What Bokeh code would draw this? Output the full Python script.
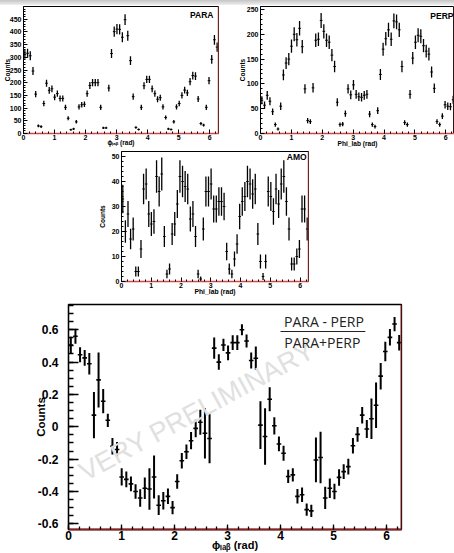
import numpy as np
from bokeh.plotting import figure
from bokeh.layouts import column, row
from bokeh.models import Range1d, FixedTicker, Label, Span, BoxAnnotation, Spacer, ColumnDataSource
from bokeh.embed import file_html
from bokeh.resources import INLINE

# ---------------- data (72 bins of 5 degrees over 0..2pi) ----------------
N_BINS = 72
PHI_MAX = 2 * np.pi

para_counts = [312, 316, 306, 246, 155, 30, 27, 118, 198, 170,
               176, 143, 157, 138, 138, 103, 60, 15, 18, 46,
               105, 113, 115, 157, 189, 200, 200, 200, 103, 22,
               22, 179, 315, 401, 411, 410, 379, 448, 385, 287,
               145, 24, 16, 103, 188, 213, 213, 176, 157, 135,
               141, 105, 63, 18, 16, 46, 105, 118, 150, 171,
               160, 204, 228, 226, 136, 39, 33, 103, 208, 292,
               369, 340]

perp_counts = [67, 57, 77, 65, 44, 18, 9, 55, 118, 142,
               150, 176, 200, 189, 212, 175, 90, 26, 24, 92,
               188, 190, 228, 206, 188, 184, 158, 135, 63, 18,
               19, 40, 90, 78, 98, 79, 74, 73, 77, 79,
               39, 18, 14, 46, 119, 170, 191, 209, 190, 227,
               225, 209, 135, 22, 18, 79, 152, 184, 198, 196,
               177, 166, 160, 124, 91, 24, 18, 35, 58, 55,
               54, 68]

amo_counts = [33, 20, 27, 17, 21, 4, 4, 13, 37, 39,
              27, 23, 24, 42, 36, 43, 18, 3, 5, 19,
              23, 31, 42, 40, 38, 37, 25, 27, 18, 3,
              1, 21, 36, 36, 39, 29, 29, 32, 32, 30,
              12, 5, 3, 9, 15, 26, 32, 34, 40, 39,
              35, 37, 19, 8, 2, 8, 36, 34, 28, 37,
              31, 39, 42, 32, 21, 7, 7, 10, 13, 29,
              29, 21]

asym_values = [0.506, 0.56, 0.445, 0.426, 0.39, 0.072, 0.29, 0.158, 0.04, -0.12,
               -0.14, -0.31, -0.325, -0.353, -0.40, -0.44, -0.38, -0.385, -0.31, -0.485,
               -0.457, -0.43, -0.50, -0.338, -0.21, -0.154, -0.086, -0.01, 0.028, -0.04,
               -0.072, 0.486, 0.40, 0.506, 0.457, 0.52, 0.52, 0.60, 0.53, 0.41,
               0.424, 0.01, -0.06, 0.17, 0.006, -0.106, -0.164, -0.307, -0.297, -0.43,
               -0.42, -0.512, -0.52, -0.205, -0.19, -0.44, -0.38, -0.40, -0.313, -0.277,
               -0.246, -0.117, -0.047, 0.072, -0.014, 0.05, 0.133, 0.313, 0.465, 0.553,
               0.635, 0.52]

asym_errors = [0.051, 0.046, 0.046, 0.049, 0.066, 0.143, 0.17, 0.075, 0.041, 0.051,
               0.046, 0.053, 0.049, 0.046, 0.045, 0.054, 0.066, 0.128, 0.133, 0.061,
               0.054, 0.048, 0.041, 0.045, 0.048, 0.045, 0.053, 0.054, 0.078, 0.156,
               0.154, 0.066, 0.048, 0.038, 0.045, 0.046, 0.046, 0.034, 0.04, 0.049,
               0.072, 0.148, 0.174, 0.074, 0.053, 0.046, 0.046, 0.041, 0.041, 0.045,
               0.045, 0.038, 0.038, 0.138, 0.159, 0.069, 0.06, 0.048, 0.051, 0.046,
               0.049, 0.048, 0.046, 0.051, 0.056, 0.125, 0.141, 0.082, 0.06, 0.051,
               0.044, 0.048]

x_ticks = [0, 1, 2, 3, 4, 5, 6]
para_yticks = [0, 50, 100, 150, 200, 250, 300, 350, 400, 450]
perp_yticks = [0, 50, 100, 150, 200, 250]
amo_yticks = [0, 10, 20, 30, 40, 50]
asym_yticks = [-0.6, -0.4, -0.2, 0, 0.2, 0.4, 0.6]
asym_ytick_labels = ["-0.6", "-0.4", "-0.2", "0", "0.2", "0.4", "0.6"]

FONT = "Liberation Sans"
bin_w = PHI_MAX / N_BINS
centers = (np.arange(N_BINS) + 0.5) * bin_w
x_minor = list(np.round(np.arange(0, 6.3, 0.2), 3))


def add_errorbars(p, vals, errs, lw_v, lw_h, color="black"):
    vals = np.asarray(vals, dtype=float)
    errs = np.asarray(errs, dtype=float)
    src = ColumnDataSource(dict(x=centers, lo=vals - errs, hi=vals + errs,
                                xl=centers - bin_w / 2, xr=centers + bin_w / 2, y=vals))
    p.segment(x0="x", y0="lo", x1="x", y1="hi", source=src, line_color=color, line_width=lw_v)
    p.segment(x0="xl", y0="y", x1="xr", y1="y", source=src, line_color=color, line_width=lw_h)


def style(p, yticks, yminor, fs, xmaj, xmin, ymaj, ymin, xst, yst, red, lw=1):
    p.xgrid.visible = False
    p.ygrid.visible = False
    p.background_fill_color = "white"
    p.border_fill_color = "white"
    p.outline_line_color = "black"
    p.outline_line_width = lw
    p.xaxis.ticker = FixedTicker(ticks=x_ticks, minor_ticks=x_minor)
    p.yaxis.ticker = FixedTicker(ticks=yticks, minor_ticks=yminor)
    for ax, mj, mn, st in ((p.xaxis[0], xmaj, xmin, xst), (p.yaxis[0], ymaj, ymin, yst)):
        ax.major_tick_in = mj
        ax.major_tick_out = 0
        ax.minor_tick_in = mn
        ax.minor_tick_out = 0
        ax.major_label_text_font = FONT
        ax.major_label_text_font_style = "bold"
        ax.major_label_text_font_size = fs
        ax.major_label_text_color = "black"
        ax.major_label_standoff = st
        ax.axis_line_color = "black"
        ax.axis_line_width = lw
        ax.major_tick_line_color = "black"
        ax.minor_tick_line_color = "black"
        ax.major_tick_line_width = lw
        ax.minor_tick_line_width = lw
        ax.axis_label_text_font = FONT
        ax.axis_label_text_font_style = "bold"
        ax.axis_label_text_color = "black"
    p.xaxis[0].axis_line_color = red
    p.xaxis[0].axis_line_width = lw + 0.5
    p.add_layout(Span(location=PHI_MAX, dimension="height", line_color=red, line_width=lw + 0.5))


def set_labels(p, xlabel, xsize, xstand, ylabel, ysize, ystand):
    p.xaxis[0].axis_label = xlabel
    p.xaxis[0].axis_label_text_font_size = xsize
    p.xaxis[0].axis_label_standoff = xstand
    p.yaxis[0].axis_label = ylabel
    p.yaxis[0].axis_label_text_font_size = ysize
    p.yaxis[0].axis_label_standoff = ystand


def txt(p, x, y, text, size, style_="bold", align="center", baseline="alphabetic",
        angle=0.0, color="black", font=FONT):
    p.add_layout(Label(x=x, y=y, text=text, text_font=font, text_font_size=size,
                       text_font_style=style_, text_align=align, text_baseline=baseline,
                       angle=angle, text_color=color))


def make_fig(w, h, ymax, ymin, l, r, t, b):
    return figure(width=w, height=h, x_range=Range1d(0, PHI_MAX), y_range=Range1d(ymin, ymax),
                  output_backend="svg", toolbar_location=None, tools="", title=None,
                  min_border_left=l, min_border_right=r, min_border_top=t, min_border_bottom=b)


RED_TOP = "#d04848"
PHI_LAB = "ϕₗₐᵦ (rad)"

# ---------------- PARA ----------------
p_para = make_fig(227, 144, 500, 0, 21, 9, 1, 12)
style(p_para, para_yticks, list(range(0, 500, 10)), "7px", 4, 2, 4, 2, 1, 2, RED_TOP)
set_labels(p_para, PHI_LAB, "6.5px", -4, "Counts", "6.5px", -4)
add_errorbars(p_para, para_counts, np.sqrt(para_counts), 1.3, 1.0)
txt(p_para, 6.12, 465, "PARA", "8.5px", align="right")

# ---------------- PERP ----------------
p_perp = make_fig(227, 144, 256, 0, 33, 0, 1, 13)
style(p_perp, perp_yticks, list(range(0, 256, 10)), "7px", 4, 2, 4, 2, 1, 2, RED_TOP)
set_labels(p_perp, "Phi_lab (rad)", "6.6px", -3, "Counts", "6.5px", -2)
add_errorbars(p_perp, perp_counts, np.sqrt(perp_counts), 1.3, 1.0)
txt(p_perp, 6.25, 237.5, "PERP", "8.5px", align="right")

# ---------------- AMO ----------------
p_amo = make_fig(235, 149, 52, 0, 22, 22, 2, 17)
style(p_amo, amo_yticks, list(range(0, 52, 2)), "7px", 4, 2, 4, 2, 1, 2, RED_TOP)
set_labels(p_amo, "Phi_lab (rad)", "6.8px", -3, "Counts", "6.5px", 3)
add_errorbars(p_amo, amo_counts, np.sqrt(amo_counts), 1.3, 1.0)
txt(p_amo, 6.22, 49.7, "AMO", "8.5px", align="right")

# ---------------- asymmetry ----------------
p_asym = make_fig(454, 255, 0.756, -0.635, 68, 53, 6, 23)
style(p_asym, asym_yticks, list(np.round(np.arange(-0.6, 0.76, 0.05), 3)), "12px",
      5, 3, 10, 5, 1, 10, "#8b2020", lw=1.3)
p_asym.yaxis[0].major_label_overrides = {t: s for t, s in zip(asym_yticks, asym_ytick_labels)}
set_labels(p_asym, PHI_LAB, "11px", -4, "Counts", "11.5px", -12)
# watermark
txt(p_asym, 2.42, 0.097, "VERY PRELIMINARY", "27px", style_="normal", baseline="middle",
    angle=np.radians(28.5), color="#e0e0e0")
add_errorbars(p_asym, asym_values, asym_errors, 2.0, 1.6)
# formula
txt(p_asym, 4.82, 0.653, "PARA - PERP", "14px", style_="normal", color="#222222", font="Open Sans")
txt(p_asym, 4.79, 0.524, "PARA+PERP", "14px", style_="normal", color="#222222", font="Open Sans")
p_asym.add_layout(BoxAnnotation(left=4.0, right=5.6, bottom=0.586, top=0.592,
                                fill_color="#222222", fill_alpha=1.0, line_color=None))

top_strip = Spacer(width=454, height=5,
                   styles={"background": "linear-gradient(#c4c4c4, #efefef)"})

layout = column(
    top_strip,
    row(p_para, p_perp, spacing=0),
    row(Spacer(width=95, height=149), p_amo, Spacer(width=124, height=149), spacing=0),
    p_asym,
    spacing=0,
)

open("out.html", "w").write(file_html(layout, INLINE))
